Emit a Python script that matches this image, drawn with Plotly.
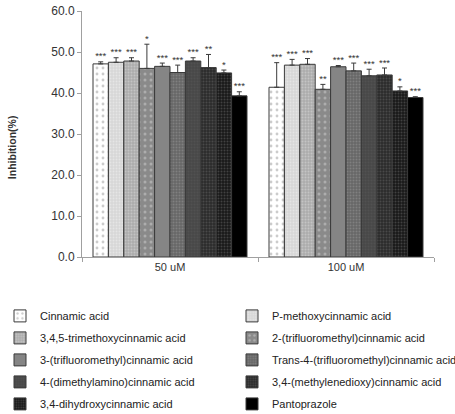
import plotly.graph_objects as go

groups = ["50 uM", "100 uM"]
compounds = [
    "Cinnamic acid",
    "P-methoxycinnamic acid",
    "3,4,5-trimethoxycinnamic acid",
    "2-(trifluoromethyl)cinnamic acid",
    "3-(trifluoromethyl)cinnamic acid",
    "Trans-4-(trifluoromethyl)cinnamic acid",
    "4-(dimethylamino)cinnamic acid",
    "3,4-(methylenedioxy)cinnamic acid",
    "3,4-dihydroxycinnamic acid",
    "Pantoprazole",
]
values_50 = [47.1, 47.5, 47.8, 46.0, 46.5, 45.0, 47.8, 46.2, 44.9, 39.3]
errors_50 = [0.5, 1.1, 0.8, 5.9, 0.8, 1.8, 0.8, 3.2, 0.7, 1.0]
values_100 = [41.4, 46.8, 47.0, 40.9, 46.4, 45.4, 44.2, 44.4, 40.5, 38.9]
errors_100 = [6.0, 1.4, 1.4, 1.2, 0.3, 1.9, 1.6, 1.7, 1.0, 0.2]
stars_50 = ["***", "***", "***", "*", "***", "***", "***", "**", "*", "***"]
stars_100 = ["***", "***", "***", "**", "***", "***", "***", "***", "*", "***"]
y_ticks = [0, 10, 20, 30, 40, 50, 60]
y_title = "Inhibition(%)"

# fill styles (background, dot colour, pattern size, solidity)
styles = [
    ("#ffffff", "#9a9a9a", 6, 0.18),
    ("#d6d6d6", "#f4f4f4", 3, 0.35),
    ("#acacac", "#dcdcdc", 3, 0.35),
    ("#8a8a8a", "#cfcfcf", 6, 0.2),
    ("#858585", "#858585", 4, 0.1),
    ("#666666", "#9a9a9a", 3, 0.35),
    ("#484848", "#5a5a5a", 3, 0.3),
    ("#2c2c2c", "#666666", 3, 0.35),
    ("#181818", "#6a6a6a", 3, 0.35),
    ("#000000", "#000000", 4, 0.1),
]

fig = go.Figure()
for i, name in enumerate(compounds):
    bg, fg, sz, sol = styles[i]
    fig.add_trace(go.Bar(
        name=name, x=groups, y=[values_50[i], values_100[i]],
        offsetgroup=str(i), legendgroup=str(i),
        legend="legend" if i % 2 == 0 else "legend2",
        marker=dict(color=bg, line=dict(color="#3a3a3a", width=1),
                    pattern=dict(shape=".", fgcolor=fg, bgcolor=bg, size=sz,
                                 solidity=sol, fillmode="overlay")),
        error_y=dict(type="data", array=[errors_50[i], errors_100[i]], symmetric=False,
                     arrayminus=[0, 0], color="#3a3a3a", thickness=1, width=2.5),
    ))
for i, name in enumerate(compounds):
    fig.add_trace(go.Scatter(
        x=groups, y=[values_50[i] + errors_50[i], values_100[i] + errors_100[i]],
        text=[stars_50[i], stars_100[i]], mode="text", textposition="top center",
        textfont=dict(size=9.5, color="#333333", family="Liberation Sans, Arial"),
        offsetgroup=str(i), showlegend=False, hoverinfo="skip",
    ))

legend_common = dict(orientation="v", xref="container", yref="container",
                     y=0.272, xanchor="left", yanchor="top",
                     font=dict(size=11, color="#222222"), traceorder="grouped",
                     tracegroupgap=3, itemwidth=30, bgcolor="rgba(0,0,0,0)")
fig.update_layout(
    width=455, height=414,
    margin=dict(l=82, r=21, t=11, b=157, autoexpand=False),
    barmode="group", scattermode="group", bargap=0.125, bargroupgap=0,
    plot_bgcolor="white", paper_bgcolor="white",
    font=dict(family="Liberation Sans, Arial", size=11, color="#333333"),
    showlegend=True,
    legend=dict(x=0.0, **legend_common),
    legend2=dict(x=232 / 455, **legend_common),
    annotations=[dict(text="<b>" + y_title + "</b>", xref="paper", yref="paper",
                      x=-0.2, y=0.445, textangle=-90, showarrow=False,
                      xanchor="center", yanchor="middle",
                      font=dict(size=10.5, color="#333333"))],
)
fig.update_xaxes(showline=True, linecolor="#a0a0a0", linewidth=1,
                 ticks="outside", tickson="boundaries", ticklen=4, tickcolor="#a0a0a0",
                 tickfont=dict(size=11), showgrid=False)
fig.update_yaxes(range=[0, 60], tickvals=y_ticks, tickformat=".1f",
                 showline=True, linecolor="#a0a0a0", linewidth=1,
                 ticks="outside", ticklen=4, tickcolor="#a0a0a0",
                 tickfont=dict(size=12), showgrid=False, zeroline=False)

fig.write_html("out.html")
